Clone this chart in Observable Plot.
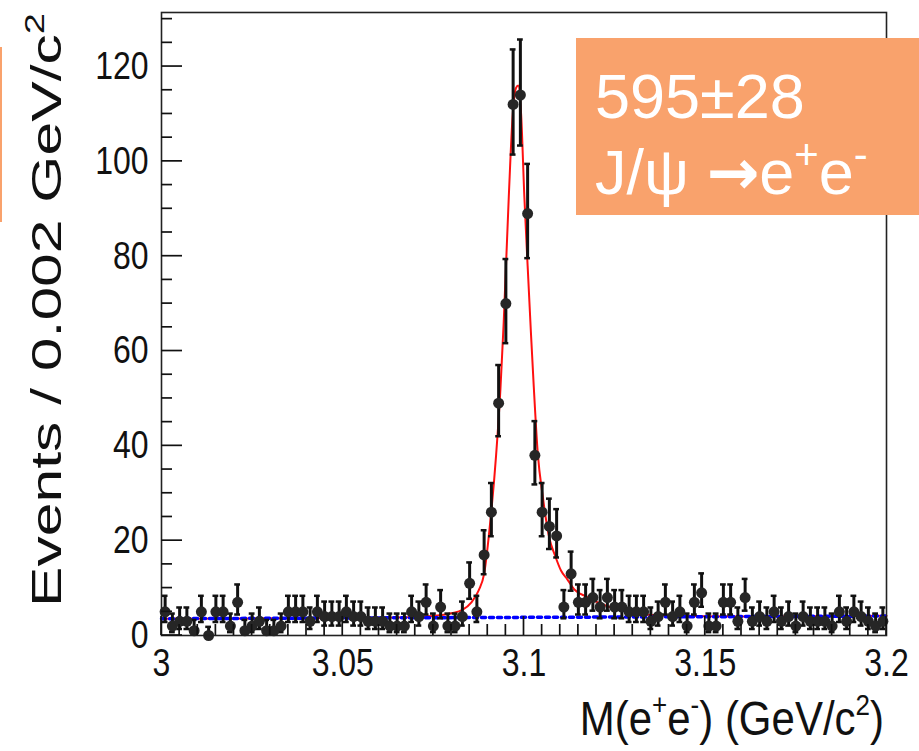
<!DOCTYPE html>
<html>
<head>
<meta charset="utf-8">
<script src="https://cdn.jsdelivr.net/npm/d3@7"></script>
<script src="https://cdn.jsdelivr.net/npm/@observablehq/plot@0.6"></script>
<style>
  html, body { margin: 0; padding: 0; background: #fff; }
  svg { display: block; }
</style>
</head>
<body>
<div id="chart"></div>
<script>
// ---- Data ----
const binLow = 3.0;
const binWidth = 0.002;
const counts = [
  5, 2, 3, 3, 1, 5, 0, 5, 5, 2,
  7, 1, 2, 3, 1, 1, 2, 5, 5, 5,
  3, 5, 4, 4, 4, 5, 4, 4, 3, 3,
  3, 2, 2, 2, 5, 4, 7, 2, 6, 2,
  2, 4, 11, 5, 17, 26, 49, 70, 112, 114,
  89, 38, 26, 23, 21, 6, 13, 7, 7, 8,
  6, 8, 6, 6, 5, 5, 5, 3, 4, 7,
  4, 5, 2, 7, 9, 2, 2, 7, 7, 3,
  8, 3, 4, 3, 5, 3, 4, 2, 4, 3,
  3, 3, 2, 5, 3, 5, 4, 3, 2, 3
];

// total fit curve (red)
const fitMass = [3.000, 3.040, 3.060, 3.070, 3.076, 3.080, 3.083, 3.0855, 3.0875, 3.089,
  3.0907, 3.0923, 3.0935, 3.0944, 3.0958, 3.0969, 3.0978, 3.0984, 3.0992, 3.1001,
  3.1010, 3.1019, 3.1027, 3.1038, 3.1052, 3.1070, 3.1085, 3.1102, 3.1120, 3.1138,
  3.1175, 3.1212, 3.1267, 3.1313, 3.1400, 3.1600, 3.2000];
const fitValue = [3.55, 3.65, 3.75, 3.9, 4.2, 4.7, 5.4, 7.0, 9.5, 13,
  24, 38, 52, 66, 92.5, 110, 115.5, 116, 110, 92.5,
  78, 64, 52.4, 38.4, 29.2, 20.5, 17.0, 13.7, 11.8, 9.8,
  8.1, 6.7, 5.3, 4.6, 4.2, 4.0, 4.15];

// background component (blue dotted)
const bgMass = [3.0, 3.2];
const bgValue = [3.55, 4.1];

// axes
const xTicks = [3.0, 3.05, 3.1, 3.15, 3.2];
const xTickLabels = ["3", "3.05", "3.1", "3.15", "3.2"];
const yTicks = [0, 20, 40, 60, 80, 100, 120];
const yDomain = [0, 131.4];
const xDomain = [3.0, 3.2];

const yTitle = "Events / 0.002 GeV/c2";
const boxLine1 = "595±28";

// ---- derived tables ----
// asymmetric Poisson (68%) intervals, as drawn by RooFit
function poissonLow(n) {
  if (n === 0) return 0;
  return n * Math.pow(1 - 1 / (9 * n) - 1 / (3 * Math.sqrt(n)), 3);
}
function poissonHigh(n) {
  const k = n + 1;
  return k * Math.pow(1 - 1 / (9 * k) + 1 / (3 * Math.sqrt(k)), 3);
}
const points = counts.map((n, i) => ({
  m: binLow + binWidth * (i + 0.5),
  n,
  lo: poissonLow(n),
  hi: poissonHigh(n)
}));
const capHalf = 0.0008;
const fit = fitMass.map((m, i) => ({m, v: fitValue[i]}));
const bg = bgMass.map((m, i) => ({m, v: bgValue[i]}));
const xMinor = d3.range(0, 41).map(i => +(xDomain[0] + i * 0.005).toFixed(3)).filter(v => !xTicks.some(t => Math.abs(t - v) < 1e-9));
const yMinor = d3.range(5, 131, 5).filter(v => v % 20 !== 0);

const W = 919, H = 751;
const mL = 161, mR = 33, mT = 12, mB = 116;
const font = "'Liberation Sans', Arial, Helvetica, sans-serif";
const tickLen = {xMinor: 11, xMajor: 19, yMinor: 11, yMajor: 21};

const svg = Plot.plot({
  width: W,
  height: H,
  marginLeft: mL,
  marginRight: mR,
  marginTop: mT,
  marginBottom: mB,
  x: {domain: xDomain},
  y: {domain: yDomain},
  style: {fontFamily: font, background: "#fff", color: "#111", overflow: "visible"},
  marks: [
    // tick labels
    Plot.axisX({ticks: xTicks, tickSize: 0, tickPadding: 13, fontSize: 32, label: null,
      tickFormat: d => xTickLabels[xTicks.findIndex(t => Math.abs(t - d) < 1e-9)]}),
    Plot.axisY({ticks: yTicks, tickSize: 0, tickPadding: 13, fontSize: 32, label: null}),
    // fit curves
    Plot.line(fit, {x: "m", y: "v", stroke: "#ff1010", strokeWidth: 2, curve: "monotone-x"}),
    Plot.line(bg, {x: "m", y: "v", stroke: "#0000ff", strokeWidth: 3.5, strokeDasharray: "4,4"}),
    // data with asymmetric Poisson errors
    Plot.ruleX(points, {x: "m", y1: "lo", y2: "hi", stroke: "#111", strokeWidth: 3}),
    Plot.ruleY(points, {y: "hi", x1: d => d.m - capHalf, x2: d => d.m + capHalf, stroke: "#111", strokeWidth: 2.5}),
    Plot.ruleY(points, {y: "lo", x1: d => d.m - capHalf, x2: d => d.m + capHalf, stroke: "#111", strokeWidth: 2.5}),
    Plot.dot(points, {x: "m", y: "n", r: 5.5, fill: "#262626", stroke: "none"}),
    Plot.frame({stroke: "#222", strokeWidth: 1.6})
  ]
});

// stretch tick labels vertically as in the reference
svg.querySelectorAll('g[aria-label$="tick label"] text').forEach(t => {
  if (!t.textContent) return;
  let tr = t.getAttribute("transform");
  if (!tr) {
    const x = parseFloat(t.getAttribute("x")) || 0;
    const y = t.getAttribute("y");
    const yNum = y && !/em$/.test(y) ? parseFloat(y) : 0;
    tr = `translate(${x},${yNum})`;
    t.removeAttribute("x");
    if (y && !/em$/.test(y)) t.removeAttribute("y");
  }
  t.setAttribute("transform", tr + " scale(1,1.21)");
});

const s = d3.select(svg);
const sx = svg.scale("x"), sy = svg.scale("y");
const x0 = sx.apply(xDomain[0]), y0 = sy.apply(yDomain[0]);

// inward tick marks (ROOT style), positioned through Plot's own scales
const tg = s.append("g").attr("stroke", "#111").attr("stroke-width", 1.7);
tg.selectAll(".xminor").data(xMinor).join("line")
  .attr("x1", d => sx.apply(d)).attr("x2", d => sx.apply(d))
  .attr("y1", y0).attr("y2", y0 - tickLen.xMinor);
tg.selectAll(".xmajor").data(xTicks).join("line")
  .attr("x1", d => sx.apply(d)).attr("x2", d => sx.apply(d))
  .attr("y1", y0).attr("y2", y0 - tickLen.xMajor);
tg.selectAll(".yminor").data(yMinor).join("line")
  .attr("y1", d => sy.apply(d)).attr("y2", d => sy.apply(d))
  .attr("x1", x0).attr("x2", x0 + tickLen.yMinor);
tg.selectAll(".ymajor").data(yTicks).join("line")
  .attr("y1", d => sy.apply(d)).attr("y2", d => sy.apply(d))
  .attr("x1", x0).attr("x2", x0 + tickLen.yMajor);

// y title (rotated, right-aligned at top)
const yt = s.append("text")
  .attr("transform", "translate(61,13) rotate(-90) scale(1.41,1)")
  .attr("text-anchor", "end")
  .attr("font-family", font)
  .attr("font-size", 43)
  .attr("fill", "#111");
yt.append("tspan").text(yTitle.slice(0, -1));
yt.append("tspan").attr("dy", -17).attr("font-size", 27).text(yTitle.slice(-1));

// x title
const xt = s.append("text")
  .attr("transform", "translate(884,735) scale(1,1.15)")
  .attr("text-anchor", "end")
  .attr("font-family", font)
  .attr("font-size", 42)
  .attr("fill", "#111");
xt.append("tspan").text("M(e");
xt.append("tspan").attr("dy", -17).attr("font-size", 26).text("+");
xt.append("tspan").attr("dy", 17).text("e");
xt.append("tspan").attr("dy", -17).attr("font-size", 26).text("-");
xt.append("tspan").attr("dy", 17).text(") (GeV/c");
xt.append("tspan").attr("dy", -17).attr("font-size", 26).text("2");
xt.append("tspan").attr("dy", 17).text(")");

// annotation boxes
s.append("rect").attr("x", 0).attr("y", 47).attr("width", 2).attr("height", 175).attr("fill", "#f9a26c");
s.append("rect").attr("x", 576).attr("y", 38).attr("width", W - 576).attr("height", 177).attr("fill", "#f9a26c");
s.append("text").attr("x", 595).attr("y", 118).attr("text-anchor", "start")
  .attr("font-family", font).attr("font-size", 63).attr("fill", "#fff").text(boxLine1);
const l2 = s.append("text").attr("x", 595).attr("y", 194).attr("text-anchor", "start")
  .attr("font-family", font).attr("font-size", 63).attr("fill", "#fff");
l2.append("tspan").text("J/ψ ");
l2.append("tspan").attr("font-family", "'DejaVu Sans', sans-serif").attr("font-weight", "bold").text("→");
l2.append("tspan").text("e");
l2.append("tspan").attr("dy", -25).attr("font-size", 42).text("+");
l2.append("tspan").attr("dy", 25).text("e");
l2.append("tspan").attr("dy", -25).attr("font-size", 42).text("-");

document.getElementById("chart").appendChild(svg);
</script>
</body>
</html>
